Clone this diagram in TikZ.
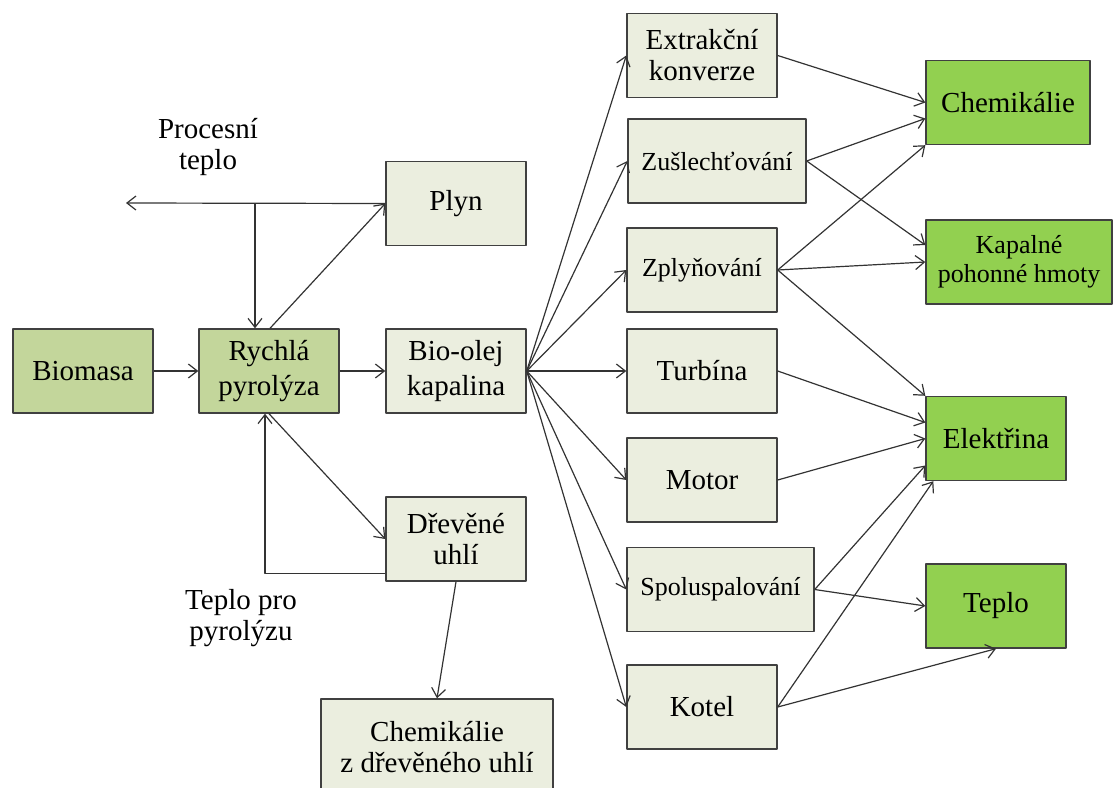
\documentclass[tikz,border=0pt]{standalone}
\usepackage{fontspec}
\setmainfont{Liberation Serif}
\usetikzlibrary{arrows.meta}
\definecolor{svetla}{HTML}{EBEEDF}
\definecolor{olivova}{HTML}{C3D69B}
\definecolor{zelena}{HTML}{92D050}
\definecolor{okraj}{HTML}{404040}
\definecolor{cara}{HTML}{333333}
\begin{document}
\begin{tikzpicture}[x=.5pt,y=-.5pt,line join=round,
  blok/.style={draw=okraj,line width=.7pt,fill=svetla,minimum width=75pt,minimum height=42pt,
    inner sep=1pt,align=center,font=\fontsize{14.5}{15.5}\selectfont},
  vstup/.style={blok,fill=olivova,minimum width=70pt},
  vystup/.style={blok,fill=zelena,minimum width=70pt},
  drobne/.style={font=\fontsize{13}{14.5}\selectfont},
  popis/.style={align=center,font=\fontsize{14.5}{15.5}\selectfont},
  sipka/.style={draw=cara,line width=.6pt,-{Straight Barb[length=4.5pt,width=7pt]}}]
\useasboundingbox (0,0) rectangle (1113,787);
% Vstup, pyrolyza a jeji produkty.
\node[vstup] (biomasa) at (83,371){Biomasa};
\node[vstup] (pyroliza) at (269,371){Rychlá\\[2pt]pyrolýza};
\node[blok,minimum width=70pt] (olej) at (456,371){Bio-olej\\[2pt]kapalina};
\node[blok,minimum width=70pt] (plyn) at (456,203.5){Plyn};
\node[blok,minimum width=70pt] (uhli) at (456,539){Dřevěné\\uhlí};
\node[blok,minimum width=116pt,minimum height=48pt] (chemuhli) at (437,747){Chemikálie\\z dřevěného uhlí};
\node[popis] (proces) at (208,147){Procesní\\teplo};
\node[popis] (teplopyr) at (241,618){Teplo pro\\pyrolýzu};
% Zpracovani bio-oleje.
\node[blok] (extr) at (702,55.5){Extrakční\\konverze};
\node[blok,drobne,minimum width=89pt] (zusl) at (717,161){Zušlechťování};
\node[blok,drobne] (zply) at (702,270){Zplyňování};
\node[blok] (turb) at (702,371){Turbína};
\node[blok] (motor) at (702,480){Motor};
\node[blok,drobne,minimum width=93.5pt] (spolu) at (720.5,589.5){Spoluspalování};
\node[blok] (kotel) at (702,707){Kotel};
% Koncove produkty.
\node[vystup,minimum width=82pt] (chem) at (1008,102.5){Chemikálie};
\node[vystup,drobne,minimum width=93pt] (kapal) at (1019,262){Kapalné\\pohonné hmoty};
\node[vystup] (elek) at (996,438.5){Elektřina};
\node[vystup] (teplo) at (996,606){Teplo};
% Sipky vlevo.
\coordinate (odb) at (255,203);
\coordinate (ven) at (126,203);
\draw[sipka] (biomasa) -- (pyroliza);
\draw[sipka] (pyroliza) -- (olej);
\draw[sipka] (plyn.west) -- (ven);
\draw[sipka] (odb) -- (odb |- pyroliza.north);
\draw[sipka] ([xshift=.5pt]pyroliza.north) -- (plyn.west);
\draw[sipka] (pyroliza.south) -- (uhli.west);
\draw[sipka] ([yshift=4pt]uhli.south west) -| ([xshift=-2pt]pyroliza.south);
\draw[sipka] (uhli.south) -- (chemuhli.north);
\foreach \cil in {extr,zusl,zply,turb,motor,spolu,kotel}
  \draw[sipka] (olej.east) -- (\cil.west);
% Sipky vpravo.
\draw[sipka] (extr.east) -- (chem.west);
\draw[sipka] (zusl.east) -- ([yshift=-8pt]chem.west);
\draw[sipka] (zusl.east) -- ([yshift=8.5pt]kapal.west);
\draw[sipka] (zply.east) -- (chem.south west);
\draw[sipka] (zply.east) -- (kapal.west);
\draw[sipka] (zply.east) -- (elek.north west);
\draw[sipka] (turb.east) -- ([yshift=8pt]elek.west);
\draw[sipka] (motor.east) -- (elek.west);
\draw[sipka] (spolu.east) -- ([yshift=-13.5pt]elek.west);
\draw[sipka] (spolu.east) -- (teplo.west);
\draw[sipka] (kotel.east) -- ([xshift=4pt]elek.south west);
\draw[sipka] (kotel.east) -- (teplo.south);
\end{tikzpicture}
\end{document}
